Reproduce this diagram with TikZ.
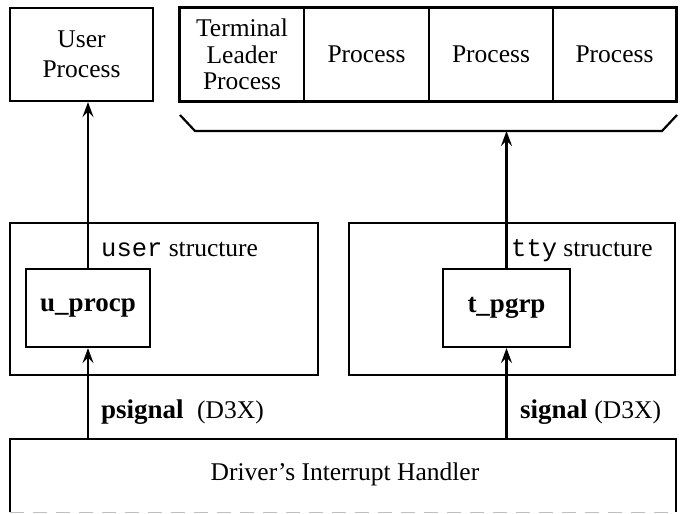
\documentclass[tikz,border=0pt]{standalone}
\usepackage{fontspec}
\setmainfont{Liberation Serif}
\setmonofont{Liberation Mono}
\usetikzlibrary{arrows.meta}
\begin{document}
\begin{tikzpicture}[x=1pt,y=-1pt,
  box/.style={draw,line width=2.2pt,inner sep=0pt,
    font=\fontsize{25.5}{30}\selectfont,align=center},
  cell/.style={draw,line width=1.6pt,inner sep=0pt,minimum height=93pt,
    font=\fontsize{25.5}{26.5}\selectfont,align=center},
  lbl/.style={inner sep=0pt,anchor=base west,font=\fontsize{25.5}{28}\selectfont},
  bold/.style={font=\fontsize{27}{30}\selectfont\bfseries},
  sig/.style={line width=2.2pt,-{Stealth[length=15pt,width=11pt,inset=5.5pt]}}]
\useasboundingbox (0,0) rectangle (680,514);

% top row: the user process and the terminal's process group
\node[box,minimum width=143pt,minimum height=93pt] (user) at (81.5,54.5) {User\\Process};
\node[cell,minimum width=124pt] (tl) at (242,54.5) {Terminal\\Leader\\Process};
\node[cell,minimum width=125pt] (p1) at (366.5,54.5) {Process};
\node[cell,minimum width=124pt] (p2) at (491,54.5) {Process};
\node[cell,minimum width=123pt] (p3) at (614.5,54.5) {Process};
\draw[line width=2.2pt] (tl.north west) rectangle (p3.south east);

% brace grouping the processes
\coordinate (bl) at (180,115);
\coordinate (br) at (677,115);
\coordinate (bkl) at (195,131);
\coordinate (bkr) at (662,131);
\draw[line width=2.2pt] (bl) -- (bkl) -- (bkr) -- (br);

% kernel structures
\node[box,minimum width=308pt,minimum height=152pt] (ustruct) at (164,299) {};
\node[box,minimum width=326pt,minimum height=152pt] (tstruct) at (512,299) {};
\node[box,bold,minimum width=124pt,minimum height=78pt] (uprocp) at (88,308) {u\_procp};
\node[box,bold,minimum width=127pt,minimum height=78pt] (tpgrp) at (506.5,308) {t\_pgrp};
\node[lbl] (ulbl) at (101,256) {\texttt{user} structure};
\node[lbl] (tlbl) at (511,256) {\texttt{tty} structure};

% interrupt handler, open at the foot
\coordinate (dtl) at (10,439);
\coordinate (dtr) at (676,439);
\coordinate (dbl) at (10,512);
\coordinate (dbr) at (676,512);
\draw[line width=2.2pt] (dbl) -- (dtl) -- (dtr) -- (dbr);
\draw[line width=1pt,black!25,dash pattern=on 14pt off 9pt] (dbl) -- (dbr);
\node[inner sep=0pt,font=\fontsize{25.5}{30}\selectfont] (drv) at (345,474) {Driver's Interrupt Handler};

% signal paths
\draw[sig] (uprocp.north) -- (uprocp.north |- user.south);
\draw[sig] (tpgrp.north) -- (tpgrp.north |- bkl);
\draw[sig] (dtl -| uprocp) -- (uprocp.south);
\draw[sig] (dtl -| tpgrp) -- (tpgrp.south);
\node[lbl] (ps) at (101,418) {\fontsize{27}{30}\selectfont\bfseries psignal\ \ \fontsize{25.5}{30}\selectfont\mdseries(D3X)};
\node[lbl] (s) at (520,418) {\fontsize{27}{30}\selectfont\bfseries signal \fontsize{25.5}{30}\selectfont\mdseries(D3X)};
\end{tikzpicture}
\end{document}
